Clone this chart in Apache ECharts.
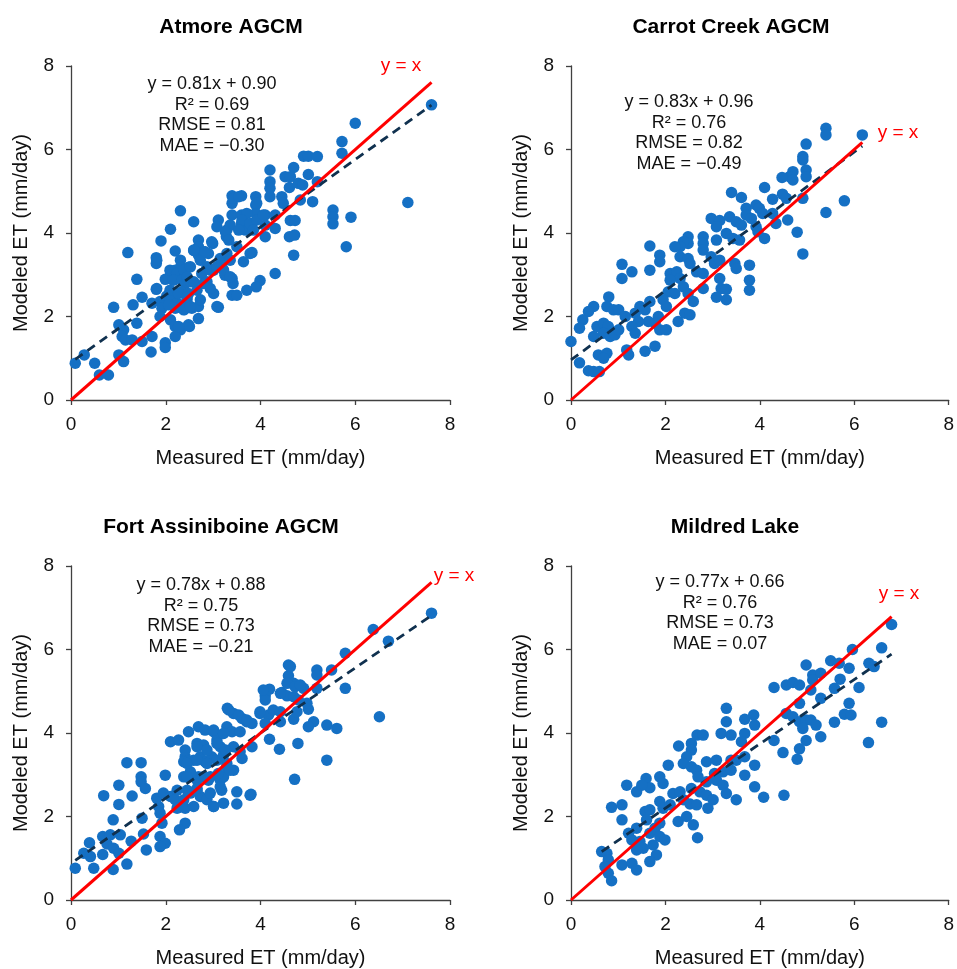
<!DOCTYPE html>
<html>
<head>
<meta charset="utf-8">
<script src="https://cdn.jsdelivr.net/npm/echarts@6/dist/echarts.min.js"></script>
<style>
  html, body { margin: 0; padding: 0; background: #fff; }
  #chart { width: 957px; height: 969px; }
</style>
</head>
<body>
<div id="chart"></div>
<script>
// Panel titles and fit statistics
const panelTitles = ['Atmore AGCM', 'Carrot Creek AGCM', 'Fort Assiniboine AGCM', 'Mildred Lake'];
const slopes = [0.81, 0.83, 0.78, 0.77];
const intercepts = [0.90, 0.96, 0.88, 0.66];
const r2Values = ['0.69', '0.76', '0.75', '0.76'];
const rmseValues = ['0.81', '0.82', '0.73', '0.73'];
const maeValues = ['\u22120.30', '\u22120.49', '\u22120.21', '0.07'];
const tickValues = [0, 2, 4, 6, 8];

// Daily ET pairs: [measured, modeled] (mm/day)
const atmorePts = [[7.61,7.07],[6.0,6.63],[5.72,6.19],[5.72,5.91],[7.11,4.73],[5.91,4.38],[5.81,3.67],[5.53,4.55],[5.53,4.39],[5.53,4.22],[4.91,5.84],[5.01,5.84],[5.20,5.83],[4.70,5.57],[4.20,5.51],[4.52,5.35],[4.63,5.35],[5.01,5.40],[4.20,5.23],[4.20,5.07],[4.61,5.09],[4.80,5.19],[4.89,5.15],[5.20,5.23],[4.20,4.87],[4.45,4.87],[4.48,4.71],[4.84,4.79],[5.10,4.75],[3.40,4.89],[3.60,4.89],[3.40,4.71],[3.90,4.87],[3.90,4.67],[3.90,4.47],[3.40,4.43],[3.60,4.43],[4.10,4.43],[4.31,4.43],[3.11,4.31],[3.08,4.15],[3.60,4.23],[3.71,4.19],[3.82,4.23],[3.68,4.07],[4.10,4.19],[4.31,4.11],[4.10,3.91],[4.63,4.30],[4.73,4.30],[4.61,3.91],[4.72,3.95],[4.70,3.47],[4.31,3.03],[3.99,2.86],[3.91,2.71],[3.71,2.63],[3.40,2.51],[3.50,2.51],[3.82,3.53],[3.29,4.07],[3.28,3.91],[2.31,4.53],[2.59,4.27],[2.10,4.09],[1.90,3.81],[2.69,3.83],[2.69,3.67],[2.99,3.75],[1.20,3.53],[2.20,3.57],[2.59,3.58],[2.69,3.47],[2.80,3.55],[2.90,3.51],[1.80,3.41],[1.80,3.27],[2.31,3.35],[2.31,3.18],[2.48,3.18],[2.10,3.07],[2.20,3.11],[2.73,3.35],[2.87,3.19],[3.15,3.39],[3.29,3.51],[3.36,3.35],[3.18,3.21],[3.01,3.11],[3.25,2.99],[3.40,2.91],[3.42,2.79],[1.39,2.89],[1.99,2.89],[2.20,2.91],[2.31,2.95],[2.41,2.79],[2.52,2.83],[1.80,2.65],[1.50,2.46],[1.31,2.28],[1.71,2.32],[1.88,2.36],[2.02,2.49],[2.20,2.55],[2.34,2.59],[2.48,2.55],[2.66,2.63],[2.87,2.83],[3.01,2.55],[2.10,2.40],[2.24,2.32],[2.45,2.40],[1.92,2.20],[2.20,2.20],[2.39,2.17],[2.55,2.20],[2.69,2.24],[3.11,2.22],[0.90,2.22],[2.69,1.95],[2.10,1.92],[1.39,1.84],[1.01,1.80],[1.11,1.68],[1.08,1.52],[1.15,1.44],[1.29,1.44],[1.50,1.40],[1.71,1.52],[2.20,1.76],[2.31,1.68],[2.50,1.76],[2.20,1.52],[1.99,1.37],[1.99,1.26],[1.69,1.15],[1.01,1.08],[1.11,0.92],[0.09,0.88],[0.28,1.08],[0.50,0.88],[0.60,0.60],[0.79,0.60],
  [1.81,3.35],[2.97,3.79],[2.59,3.59],[2.83,3.55],[2.09,3.11],[2.23,3.03],[2.38,3.11],[2.52,3.19],[2.16,2.87],[2.34,2.87],[1.81,2.67],[2.45,2.95],[2.59,2.83],[2.76,3.03],[2.94,3.11],[3.08,3.19],[3.22,3.11],[3.36,2.95],[2.80,2.79],[2.94,2.67],[2.09,2.63],[2.27,2.55],[2.45,2.47],[2.73,2.40],[2.06,2.28],[2.38,2.16],[2.52,2.24],[3.08,2.24],[2.48,1.80],[2.27,1.76],[1.88,2.00],[3.43,4.83],[3.54,4.87],[3.92,4.71],[3.71,4.47],[3.61,4.31],[3.78,4.23],[3.92,4.31],[3.36,4.19],[3.54,4.07],[3.85,4.07],[3.26,4.03],[3.33,3.83],[3.50,3.67],[3.78,3.51],[3.64,3.31],[4.06,4.43]];

const carrotPts = [[6.17,6.35],[5.40,6.51],[5.40,6.35],[4.98,6.13],[4.91,5.83],[4.91,5.75],[4.98,5.51],[4.98,5.35],[4.70,5.47],[4.63,5.35],[4.47,5.33],[4.70,5.27],[4.10,5.09],[3.40,4.97],[3.61,4.85],[4.27,4.81],[4.48,4.93],[4.56,4.83],[4.91,4.83],[5.79,4.77],[5.40,4.49],[3.71,4.59],[3.92,4.67],[3.99,4.59],[4.06,4.47],[3.71,4.43],[3.82,4.35],[2.97,4.35],[3.15,4.30],[3.08,4.15],[3.36,4.39],[3.50,4.27],[3.61,4.19],[4.27,4.47],[4.34,4.23],[4.59,4.31],[4.79,4.02],[4.91,3.50],[4.10,3.87],[3.92,4.15],[3.96,4.03],[3.08,3.83],[3.29,3.99],[3.43,3.87],[3.57,3.83],[2.48,3.91],[2.48,3.75],[2.38,3.79],[2.31,3.67],[2.80,3.91],[2.80,3.75],[2.80,3.59],[2.20,3.67],[2.31,3.43],[1.67,3.69],[1.88,3.47],[1.88,3.31],[2.48,3.39],[2.52,3.27],[2.97,3.43],[3.04,3.27],[3.15,3.35],[3.47,3.27],[3.50,3.15],[3.78,3.23],[3.78,2.87],[3.78,2.63],[1.08,3.25],[1.29,3.07],[1.08,2.91],[1.67,3.11],[2.10,3.03],[2.24,3.07],[2.31,2.91],[2.66,3.07],[2.80,3.03],[3.15,2.91],[3.18,2.67],[3.29,2.65],[3.08,2.46],[3.29,2.40],[2.38,2.71],[2.48,2.55],[2.59,2.36],[2.80,2.67],[2.10,2.87],[2.06,2.59],[2.20,2.55],[0.80,2.47],[0.76,2.24],[0.90,2.16],[0.48,2.24],[0.37,2.12],[0.25,1.92],[1.01,2.16],[1.15,2.00],[1.46,2.24],[1.36,2.08],[1.57,2.16],[1.67,2.36],[1.95,2.40],[2.02,2.24],[2.41,2.08],[2.52,2.04],[2.27,1.88],[1.85,2.00],[1.78,1.84],[1.64,1.88],[1.88,1.68],[2.02,1.68],[1.43,1.88],[1.29,1.76],[1.36,1.60],[0.55,1.76],[0.69,1.84],[0.79,1.76],[0.69,1.60],[0.83,1.52],[0.48,1.52],[0.93,1.56],[1.01,1.68],[0.18,1.72],[0.0,1.40],[1.78,1.29],[1.57,1.17],[1.22,1.08],[1.18,1.20],[0.58,1.08],[0.76,1.12],[0.69,1.00],[0.18,0.89],[0.37,0.70],[0.48,0.68],[0.60,0.68]];

const fortPts = [[7.61,6.87],[6.38,6.48],[6.70,6.20],[5.79,5.91],[5.79,5.07],[6.51,4.39],[5.50,5.51],[5.19,5.51],[5.19,5.39],[5.19,5.07],[4.59,5.63],[4.59,5.37],[4.70,5.19],[4.91,5.07],[4.19,5.05],[4.10,4.89],[4.10,4.79],[4.45,4.97],[4.56,4.89],[4.70,4.87],[4.80,4.79],[5.01,4.57],[3.99,4.47],[4.17,4.43],[4.27,4.55],[4.10,4.23],[4.42,4.27],[4.70,4.33],[5.12,4.27],[5.01,4.15],[5.40,4.19],[5.61,4.11],[4.19,3.85],[4.40,3.61],[4.79,3.75],[5.40,3.35],[4.72,2.89],[3.30,4.59],[3.43,4.47],[3.61,4.35],[3.71,4.27],[3.82,4.23],[3.29,4.15],[3.40,4.03],[3.57,4.03],[2.48,4.03],[2.69,4.15],[2.83,4.07],[3.01,4.03],[2.10,3.79],[2.27,3.83],[2.66,3.75],[2.80,3.71],[3.08,3.83],[3.15,3.67],[3.43,3.67],[3.57,3.55],[3.82,3.67],[2.41,3.43],[2.38,3.31],[2.59,3.35],[2.73,3.43],[2.83,3.31],[2.97,3.43],[3.08,3.35],[3.22,3.47],[3.29,3.27],[3.43,3.11],[3.61,3.39],[1.18,3.29],[1.48,3.29],[1.48,2.95],[1.48,2.83],[1.57,2.67],[1.99,2.99],[2.38,2.95],[2.52,3.07],[2.66,2.87],[2.80,2.95],[2.94,2.95],[3.15,2.87],[3.22,2.95],[1.01,2.75],[0.69,2.50],[1.29,2.49],[1.01,2.29],[1.81,2.44],[1.95,2.56],[2.10,2.48],[2.24,2.63],[2.20,2.40],[2.38,2.40],[2.52,2.56],[2.66,2.63],[2.73,2.48],[2.87,2.40],[3.01,2.24],[3.18,2.63],[3.22,2.32],[3.50,2.59],[3.50,2.30],[3.80,2.53],[1.85,2.24],[1.88,2.08],[1.92,1.84],[2.24,2.20],[2.41,2.20],[2.59,2.24],[1.50,1.96],[0.89,1.92],[2.41,1.84],[2.29,1.68],[1.53,1.58],[1.88,1.52],[1.99,1.36],[1.88,1.28],[1.27,1.41],[1.59,1.20],[0.39,1.37],[0.67,1.52],[0.83,1.56],[1.04,1.56],[0.76,1.34],[0.90,1.24],[1.01,1.12],[0.67,1.09],[0.27,1.12],[0.41,1.04],[0.09,0.76],[0.48,0.76],[0.89,0.73],[1.18,0.86],
  [3.01,4.07],[3.22,3.99],[2.41,3.59],[2.66,3.67],[2.87,3.59],[3.08,3.75],[3.26,3.59],[2.45,3.27],[2.66,3.35],[2.87,3.27],[3.29,3.19],[2.45,2.95],[2.69,2.95],[2.90,2.87],[3.11,3.03],[3.36,3.11],[2.45,2.63],[2.66,2.67],[2.94,2.56],[3.15,2.71],[3.01,2.24],[3.78,2.51],[3.33,4.55],[3.54,4.43],[3.71,4.31],[3.99,4.51],[4.06,5.03],[4.42,4.95],[4.56,5.19],[4.63,5.59],[4.73,5.11],[4.84,5.15],[4.98,4.71],[4.77,4.51],[4.42,4.51]];

const mildredPts = [[6.79,6.60],[6.58,6.04],[5.96,6.00],[6.58,4.26],[6.30,3.77],[5.50,5.73],[5.68,5.67],[4.98,5.63],[6.31,5.67],[6.42,5.59],[5.89,5.55],[6.10,5.09],[5.70,5.29],[5.58,5.07],[5.12,5.39],[5.29,5.43],[5.12,5.27],[4.56,5.15],[4.70,5.21],[4.84,5.15],[4.30,5.09],[5.08,5.03],[5.29,4.83],[4.84,4.71],[5.89,4.71],[5.79,4.45],[5.93,4.43],[5.58,4.26],[4.56,4.47],[4.70,4.39],[4.84,4.27],[4.98,4.31],[5.08,4.31],[5.19,4.19],[4.91,4.11],[5.29,3.91],[4.30,3.82],[4.98,3.82],[4.84,3.62],[4.79,3.37],[4.49,3.53],[3.29,4.59],[3.29,4.27],[3.68,4.33],[3.87,4.43],[3.89,4.19],[3.68,3.99],[3.61,3.79],[3.18,3.99],[3.39,3.95],[2.67,3.95],[2.80,3.95],[2.28,3.69],[2.55,3.75],[2.55,3.59],[2.45,3.43],[2.38,3.27],[2.87,3.31],[3.08,3.35],[3.39,3.35],[3.50,3.35],[3.68,3.43],[3.89,3.23],[2.06,3.23],[2.55,3.19],[2.66,3.11],[2.69,2.95],[3.04,3.03],[3.22,3.07],[3.39,3.11],[3.68,2.99],[1.59,2.91],[1.18,2.75],[1.39,2.59],[1.67,2.69],[1.50,2.75],[1.88,2.95],[1.95,2.79],[2.87,2.83],[3.08,2.87],[3.22,2.75],[3.29,2.55],[3.50,2.40],[3.89,2.71],[4.08,2.46],[4.51,2.51],[2.16,2.55],[2.31,2.59],[2.55,2.67],[2.73,2.59],[2.87,2.51],[3.01,2.40],[1.88,2.36],[1.95,2.20],[2.10,2.28],[2.38,2.40],[2.52,2.30],[2.66,2.28],[2.90,2.20],[0.86,2.22],[1.08,2.28],[1.08,1.92],[1.57,2.12],[1.67,2.16],[1.60,1.92],[2.27,1.88],[2.45,2.00],[2.59,1.80],[1.88,1.84],[1.78,1.72],[1.39,1.72],[1.22,1.60],[1.29,1.44],[1.46,1.40],[2.68,1.49],[1.67,1.60],[1.88,1.52],[1.99,1.44],[1.74,1.32],[1.53,1.24],[1.39,1.20],[1.81,1.08],[1.67,0.92],[0.65,1.16],[0.76,1.12],[0.79,0.96],[1.08,0.84],[1.29,0.88],[1.39,0.72],[0.72,0.80],[0.79,0.64],[0.86,0.46]];

const panelPoints = [atmorePts, carrotPts, fortPts, mildredPts];

// Plot-area layout for the 2x2 panels
const grids = [
  { left: 71, top: 66, width: 379, height: 334 },
  { left: 571, top: 66, width: 379, height: 334 },
  { left: 71, top: 566, width: 379, height: 334 },
  { left: 571, top: 566, width: 379, height: 334 }
];
// Text anchor positions per panel
const titlePos = [[231, 27], [731, 27], [221, 527], [735, 527]];
const statsPos = [[212, 84], [689, 102], [201, 585], [720, 582]];
const oneToOnePos = [[401, 66], [898, 133], [454, 576], [899, 594]];

const FONT = 'Liberation Sans, Arial, sans-serif';
const axisColor = '#404040';

function axisCommon(idx, name, isY) {
  return {
    type: 'value',
    gridIndex: idx,
    min: 0, max: 8, interval: 2,
    name: name,
    nameLocation: 'middle',
    nameGap: isY ? 40 : 48,
    nameTextStyle: { fontFamily: FONT, fontSize: 20, color: '#111' },
    axisLine: { show: true, onZero: false, lineStyle: { color: axisColor, width: 1.3 } },
    axisTick: { show: true, length: 5, lineStyle: { color: axisColor, width: 1.3 } },
    axisLabel: {
      fontFamily: FONT, fontSize: 19, color: '#111', margin: isY ? 17 : 15,
      formatter: v => (tickValues.indexOf(v) >= 0 ? String(v) : '')
    },
    splitLine: { show: false }
  };
}

const xAxes = [], yAxes = [], series = [], graphics = [];
panelPoints.forEach((pts, i) => {
  xAxes.push(axisCommon(i, 'Measured ET (mm/day)', false));
  yAxes.push(axisCommon(i, 'Modeled ET (mm/day)', true));
  const xs = pts.map(p => p[0]);
  const xMin = Math.min.apply(null, xs);
  const xMax = Math.max.apply(null, xs);

  series.push({
    type: 'scatter', xAxisIndex: i, yAxisIndex: i,
    data: pts, symbolSize: 11.5,
    itemStyle: { color: '#1570c4', opacity: 1 },
    z: 2
  });
  // Least-squares fit from the stated equation
  series.push({
    type: 'line', xAxisIndex: i, yAxisIndex: i,
    data: [[xMin, slopes[i] * xMin + intercepts[i]], [xMax, slopes[i] * xMax + intercepts[i]]],
    showSymbol: false, symbol: 'none',
    lineStyle: { color: '#10314f', width: 2.8, type: [9, 6] },
    z: 3, silent: true
  });
  // 1:1 reference line
  series.push({
    type: 'line', xAxisIndex: i, yAxisIndex: i,
    data: [[0, 0], [xMax, xMax]],
    showSymbol: false, symbol: 'none',
    lineStyle: { color: '#ff0000', width: 3 },
    z: 4, silent: true
  });

  graphics.push({
    type: 'text', x: titlePos[i][0], y: titlePos[i][1],
    style: { text: panelTitles[i], font: 'bold 21px ' + FONT, fill: '#000', align: 'center', verticalAlign: 'middle' }
  });
  graphics.push({
    type: 'text', x: statsPos[i][0], y: statsPos[i][1] - 10,
    style: {
      text: 'y = ' + slopes[i].toFixed(2) + 'x + ' + intercepts[i].toFixed(2) +
            '\nR\u00b2 = ' + r2Values[i] + '\nRMSE = ' + rmseValues[i] + '\nMAE = ' + maeValues[i],
      font: '18px ' + FONT, fill: '#111', align: 'center', verticalAlign: 'top', lineHeight: 20.5
    },
    z: 10
  });
  graphics.push({
    type: 'text', x: oneToOnePos[i][0], y: oneToOnePos[i][1],
    style: { text: 'y = x', font: '19px ' + FONT, fill: '#ff0000', align: 'center', verticalAlign: 'middle' },
    z: 10
  });
});

const chart = echarts.init(document.getElementById('chart'), null, { renderer: 'canvas' });
chart.setOption({
  animation: false,
  backgroundColor: '#ffffff',
  grid: grids,
  xAxis: xAxes,
  yAxis: yAxes,
  series: series,
  graphic: graphics
});
</script>
</body>
</html>
